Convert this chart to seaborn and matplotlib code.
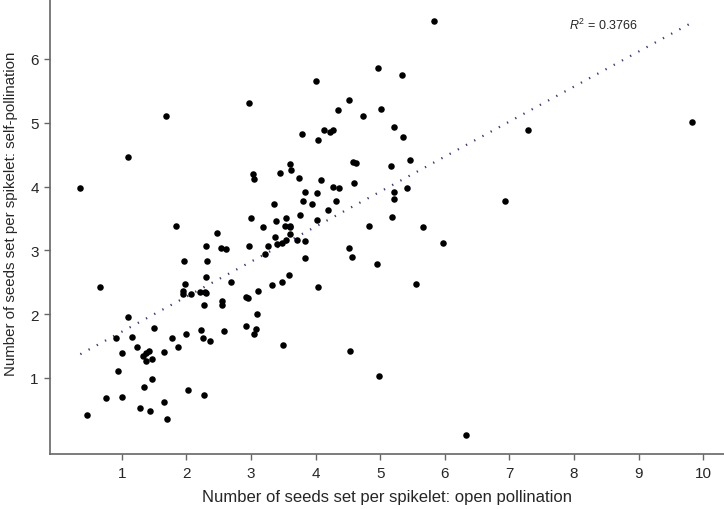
import matplotlib
matplotlib.use('Agg')
import matplotlib.pyplot as plt
import seaborn as sns
import pandas as pd

# seeds per spikelet
open_poll = [5.84, 4.96, 5.34, 4.00, 4.52, 4.35, 5.02, 4.73, 2.97, 1.68,
             5.22, 5.36, 3.79, 4.13, 4.22, 4.27, 4.03, 7.28, 9.83, 1.10,
             4.58, 4.63, 5.17, 5.46, 3.60, 3.62, 3.45, 3.03, 3.04, 3.74,
             4.09, 4.60, 4.27, 4.37, 3.83, 4.02, 5.22, 5.41, 5.22, 0.36,
             3.81, 3.94, 4.32, 3.36, 4.19, 6.93, 3.00, 3.76, 3.55, 3.39,
             4.02, 5.18, 4.83, 5.67, 1.84, 3.18, 3.52, 3.61, 3.60, 2.47,
             3.61, 3.38, 3.55, 3.71, 3.84, 3.40, 3.48, 3.26, 2.97, 2.30,
             2.54, 2.62, 5.97, 3.22, 3.83, 4.52, 4.56, 4.95, 1.97, 2.32,
             2.31, 2.69, 3.59, 3.48, 3.33, 3.11, 4.04, 5.55, 1.98, 1.95,
             1.95, 2.07, 2.21, 2.29, 2.31, 2.93, 2.96, 2.55, 2.55, 2.28,
             0.67, 1.10, 3.10, 1.50, 0.91, 1.16, 1.78, 2.00, 2.23, 2.26,
             2.37, 2.59, 2.93, 3.08, 3.04, 3.50, 1.23, 1.87, 1.01, 1.65,
             1.43, 1.38, 1.33, 1.47, 1.38, 4.54, 0.94, 1.47, 1.34, 2.02,
             2.28, 0.75, 1.00, 1.65, 1.28, 1.44, 1.70, 0.46, 4.98, 6.33]

self_poll = [6.60, 5.86, 5.75, 5.66, 5.36, 5.20, 5.21, 5.10, 5.31, 5.11,
             4.94, 4.77, 4.83, 4.88, 4.85, 4.88, 4.73, 4.88, 5.01, 4.46,
             4.38, 4.37, 4.33, 4.42, 4.35, 4.26, 4.21, 4.20, 4.12, 4.13,
             4.10, 4.05, 3.99, 3.98, 3.92, 3.90, 3.92, 3.98, 3.80, 3.97,
             3.77, 3.72, 3.77, 3.72, 3.64, 3.77, 3.50, 3.55, 3.51, 3.46,
             3.47, 3.52, 3.39, 3.36, 3.38, 3.36, 3.39, 3.39, 3.36, 3.28,
             3.26, 3.21, 3.17, 3.16, 3.14, 3.10, 3.11, 3.07, 3.07, 3.07,
             3.03, 3.02, 3.12, 2.95, 2.88, 3.04, 2.90, 2.78, 2.84, 2.84,
             2.58, 2.50, 2.61, 2.50, 2.46, 2.37, 2.42, 2.48, 2.48, 2.37,
             2.31, 2.32, 2.35, 2.35, 2.33, 2.27, 2.25, 2.20, 2.15, 2.15,
             2.42, 1.95, 2.01, 1.79, 1.62, 1.65, 1.63, 1.69, 1.76, 1.63,
             1.58, 1.74, 1.82, 1.77, 1.69, 1.51, 1.49, 1.48, 1.39, 1.40,
             1.43, 1.39, 1.34, 1.30, 1.26, 1.42, 1.11, 0.98, 0.86, 0.81,
             0.74, 0.69, 0.70, 0.63, 0.53, 0.49, 0.35, 0.42, 1.03, 0.11]

x_ticks = [1, 2, 3, 4, 5, 6, 7, 8, 9, 10]
y_ticks = [1, 2, 3, 4, 5, 6]
r2_label = r'$\mathit{R}^2$ = 0.3766'

df = pd.DataFrame({'open': open_poll, 'self': self_poll})

sns.set_style('ticks')
plt.rcParams['font.family'] = ['Liberation Sans', 'DejaVu Sans']
plt.rcParams['mathtext.fontset'] = 'custom'
plt.rcParams['mathtext.it'] = 'Liberation Sans:italic'
plt.rcParams['mathtext.rm'] = 'Liberation Sans'

fig = plt.figure(figsize=(7.24, 5.10), dpi=100)
ax = fig.add_axes([0.069, 0.108, 0.931, 0.892])

sns.scatterplot(data=df, x='open', y='self', ax=ax, color='black',
                s=22, linewidth=0, zorder=3)
sns.regplot(data=df, x='open', y='self', ax=ax, scatter=False, ci=None,
            line_kws=dict(color='#3b3b80', lw=1.6, linestyle=(0, (0.6, 3.6))))

ax.set_xlim(-0.11, 10.32)
ax.set_ylim(-0.19, 6.94)
ax.set_xticks(x_ticks)
ax.set_yticks(y_ticks)
ax.tick_params(labelsize=11, length=4, width=1, color='#666666')
ax.tick_params(axis='x', pad=5)
ax.tick_params(axis='y', pad=4)

for side in ['top', 'right']:
    ax.spines[side].set_visible(False)
for side in ['left', 'bottom']:
    ax.spines[side].set_color('#666666')
    ax.spines[side].set_linewidth(1.2)

ax.set_xlabel('Number of seeds set per spikelet: open pollination', fontsize=12, labelpad=6)
ax.set_ylabel('Number of seeds set per spikelet: self-pollination', fontsize=10.8)
ax.yaxis.set_label_coords(-0.047, 0.53)

ax.text(0.77, 0.945, r2_label, transform=ax.transAxes, fontsize=9,
        ha='left', va='center', family='Liberation Sans')

fig.savefig('out.png', dpi=100)
